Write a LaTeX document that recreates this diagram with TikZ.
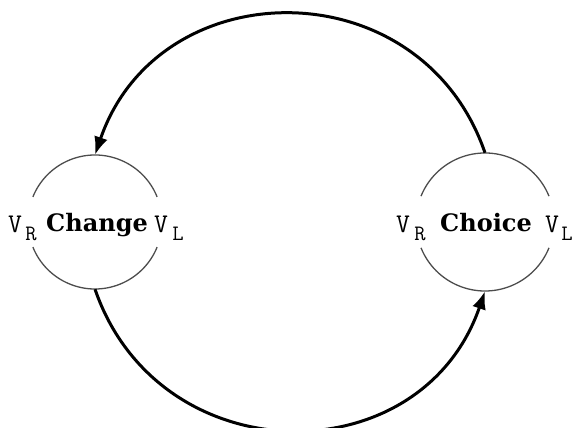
\documentclass[tikz,border=0pt]{standalone}
\usepackage{fontspec}
\usetikzlibrary{arrows.meta}
\newfontfamily\serfont{DejaVu Serif}
\begin{document}
\begin{tikzpicture}[x=1pt,y=1pt,
  ring/.style={draw=none,circle,inner sep=0pt},
  ringline/.style={draw=black!70,line width=1.3pt},
  bigarrow/.style={line width=3pt,-{Latex[length=18pt,width=14pt]}},
  word/.style={anchor=base,inner sep=0pt,font=\serfont\bfseries\fontsize{24}{28}\selectfont},
  vee/.style={anchor=base,inner sep=0pt,font=\ttfamily\fontsize{27}{30}\selectfont},
  sub/.style={anchor=base,inner sep=0pt,font=\ttfamily\fontsize{22}{24}\selectfont}]
\useasboundingbox (0,0) rectangle (574,428);
% rings
\node[ring,minimum size=134pt] (lc) at (95,206) {};
\node[ring,minimum size=138pt] (rc) at (485,206) {};
\draw[ringline] ([shift={(22:67pt)}]lc.center) arc (22:158:67pt);
\draw[ringline] ([shift={(202:67pt)}]lc.center) arc (202:338:67pt);
\draw[ringline] ([shift={(22:69pt)}]rc.center) arc (22:158:69pt);
\draw[ringline] ([shift={(202:69pt)}]rc.center) arc (202:338:69pt);
% labels
\node[word] (tchange) at (97,196) {Change};
\node[vee] (lvr) at (15,195) {V};
\node[sub] (lvrs) at (31,187) {R};
\node[vee] (lvl) at (161,195) {V};
\node[sub] (lvls) at (178,187) {L};
\node[word] (tchoice) at (486,196) {Choice};
\node[vee] (rvr) at (403,195) {V};
\node[sub] (rvrs) at (420,187) {R};
\node[vee] (rvl) at (552,195) {V};
\node[sub] (rvls) at (567,187) {L};
% connectors
\draw[bigarrow] (rc.north) to[out=109,in=71,looseness=1.285] (lc.north);
\draw[bigarrow] (lc.south) to[out=-71,in=-109,looseness=1.285] (rc.south);
\end{tikzpicture}
\end{document}
